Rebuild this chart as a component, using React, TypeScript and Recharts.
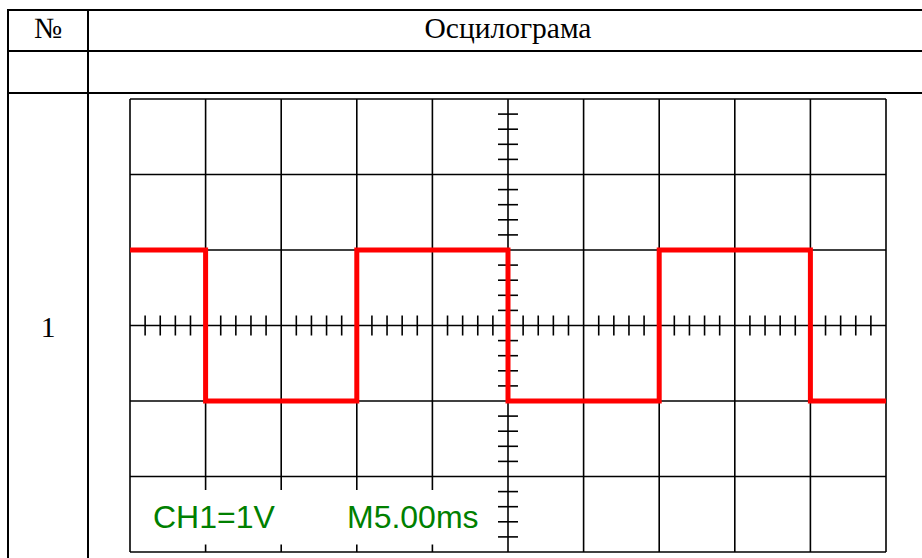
import React from 'react'
import { CartesianGrid, Line, LineChart, ReferenceArea, ReferenceDot, ReferenceLine, XAxis, YAxis } from 'recharts'

// square wave: time in ms, CH1 in volts
const timeMs = [0, 5, 15, 25, 35, 45, 50]
const ch1Volts = [1, -1, 1, -1, 1, -1, -1]

const timeTicks = [0, 5, 10, 15, 20, 25, 30, 35, 40, 45, 50]
const voltTicks = [-3, -2, -1, 0, 1, 2, 3]

const headerNo = '№'
const headerTitle = 'Осцилограма'
const rowNo = '1'
const channelLabel = 'CH1=1V'
const timebaseLabel = 'M5.00ms'

const scopeData = timeMs.map((t, i) => ({ t, v: ch1Volts[i] }))

// graticule: 5 small ticks per division on the centre axes
const minorTime = Array.from({ length: 49 }, (_, i) => i + 1).filter((t) => t % 5 !== 0)
const minorVolt = Array.from({ length: 29 }, (_, i) => i - 14)
  .filter((k) => k % 5 !== 0)
  .map((k) => k / 5)

const tickV = 0.1325 // ~10px in volts
const tickT = 0.66 // ~10px in ms

const serif = '"Liberation Serif", "Times New Roman", serif'
const sans = '"Liberation Sans", Arial, sans-serif'

const hLine = (top: number): React.CSSProperties => ({
  position: 'absolute', left: 7, top, width: 930, height: 2, background: '#000',
})
const vLine = (left: number): React.CSSProperties => ({
  position: 'absolute', left, top: 9, width: 2, height: 600, background: '#000',
})
const cellText = (left: number, width: number, top: number): React.CSSProperties => ({
  position: 'absolute', left, width, top, lineHeight: 0, textAlign: 'center',
  fontFamily: serif, fontSize: 29.5, color: '#000',
})

export default function App() {
  return (
    <div style={{ position: 'fixed', left: 0, top: 0, width: 922, height: 558, overflow: 'hidden', background: '#fff' }}>
      <div style={hLine(9)} />
      <div style={hLine(50)} />
      <div style={hLine(92)} />
      <div style={vLine(7)} />
      <div style={vLine(87)} />

      <div style={cellText(9, 78, 27.5)}>{headerNo}</div>
      <div style={cellText(89, 838, 27.5)}>{headerTitle}</div>
      <div style={cellText(9, 78, 327)}>{rowNo}</div>

      <div style={{ position: 'absolute', left: 0, top: 0 }}>
        <LineChart width={922} height={558} data={scopeData} margin={{ top: 99, right: 36, bottom: 6, left: 130 }}>
          <CartesianGrid stroke="#000" strokeWidth={1.6} strokeDasharray="" />
          <XAxis dataKey="t" type="number" domain={[0, 50]} ticks={timeTicks} hide />
          <YAxis type="number" domain={[-3, 3]} ticks={voltTicks} hide />
          {minorTime.map((t) => (
            <ReferenceLine key={'mt' + t} segment={[{ x: t, y: -tickV }, { x: t, y: tickV }]} stroke="#000" strokeWidth={1.6} />
          ))}
          {minorVolt.map((v) => (
            <ReferenceLine key={'mv' + v} segment={[{ x: 25 - tickT, y: v }, { x: 25 + tickT, y: v }]} stroke="#000" strokeWidth={1.6} />
          ))}
          <ReferenceArea x1={0.1} x2={24.1} y1={-2.9} y2={-2.18} fill="#fff" fillOpacity={1} stroke="none" />
          <ReferenceDot x={1.52} y={-2.536} r={0} fill="none" stroke="none"
            label={{ value: channelLabel, position: 'right', offset: 0, fill: '#008000', fontSize: 32, fontFamily: sans }} />
          <ReferenceDot x={14.35} y={-2.536} r={0} fill="none" stroke="none"
            label={{ value: timebaseLabel, position: 'right', offset: 0, fill: '#008000', fontSize: 32, fontFamily: sans }} />
          <Line type="stepAfter" dataKey="v" stroke="#ff0000" strokeWidth={5} dot={false} activeDot={false} isAnimationActive={false} />
        </LineChart>
      </div>
    </div>
  )
}
